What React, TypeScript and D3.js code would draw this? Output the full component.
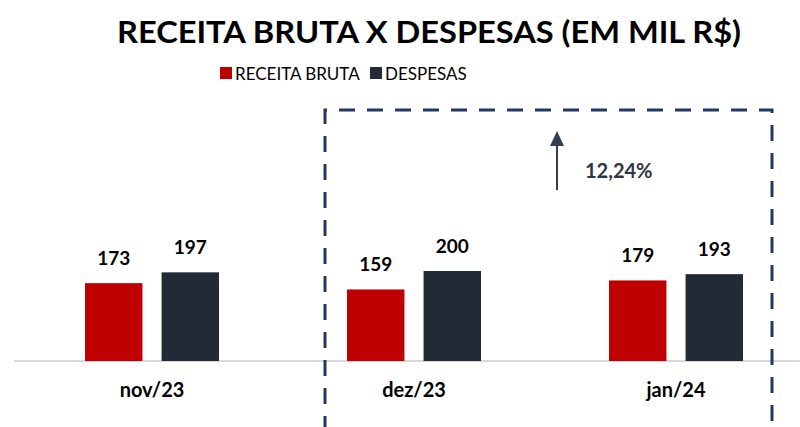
import { useEffect, useRef } from 'react'
import * as d3 from 'd3'

const categories = ['nov/23', 'dez/23', 'jan/24']
const receita = [173, 159, 179]
const despesas = [197, 200, 193]
const seriesNames = ['RECEITA BRUTA', 'DESPESAS']
const seriesColors = ['#C00000', '#222A35']
const growthLabel = '12,24%'

const W = 800
const H = 427
const BASE_Y = 361
const FONT = 'Lato, "Open Sans", sans-serif'

export default function App() {
  const svgRef = useRef<SVGSVGElement>(null)

  useEffect(() => {
    if (!svgRef.current) return
    document.body.style.margin = '0'
    const svg = d3.select(svgRef.current)
    svg.selectAll('*').remove()

    const x = d3.scaleBand<string>().domain(categories).range([21, 807]).paddingInner(0).paddingOuter(0)
    const y = d3.scaleLinear().domain([0, 200]).range([BASE_Y, 271])
    const inner = d3.scaleBand<number>().domain([0, 1]).range([-67, 67]).paddingInner(0.25)

    // Title
    svg.append('text')
      .attr('x', 429).attr('y', 43)
      .attr('text-anchor', 'middle')
      .attr('font-family', FONT).attr('font-weight', 700).attr('font-size', 30)
      .attr('textLength', 624).attr('lengthAdjust', 'spacingAndGlyphs')
      .attr('fill', '#000')
      .text('RECEITA BRUTA X DESPESAS (EM MIL R$)')

    // Legend
    const legendX = [220, 370]
    seriesNames.forEach((name, i) => {
      svg.append('rect')
        .attr('x', legendX[i]).attr('y', 67).attr('width', 12).attr('height', 12)
        .attr('fill', seriesColors[i])
      svg.append('text')
        .attr('x', legendX[i] + 15).attr('y', 80)
        .attr('font-family', FONT).attr('font-size', 17).attr('fill', '#000')
        .text(name)
    })

    // Axis baseline
    svg.append('line')
      .attr('x1', 14).attr('x2', 800).attr('y1', BASE_Y).attr('y2', BASE_Y)
      .attr('stroke', '#d9d9d9').attr('stroke-width', 2)

    const series = [receita, despesas]
    categories.forEach((c, ci) => {
      const cx = x(c)! + x.bandwidth() / 2
      series.forEach((vals, si) => {
        const bx = cx + inner(si)!
        const v = vals[ci]
        svg.append('rect')
          .attr('x', bx).attr('y', y(v))
          .attr('width', inner.bandwidth()).attr('height', BASE_Y - y(v))
          .attr('fill', seriesColors[si])
        svg.append('text')
          .attr('x', bx + inner.bandwidth() / 2).attr('y', y(v) - 18)
          .attr('text-anchor', 'middle')
          .attr('font-family', FONT).attr('font-weight', 700).attr('font-size', 19)
          .attr('fill', '#000')
          .text(v)
      })
      svg.append('text')
        .attr('x', cx).attr('y', 397)
        .attr('text-anchor', 'middle')
        .attr('font-family', FONT).attr('font-weight', 700).attr('font-size', 20)
        .attr('fill', '#000')
        .text(c)
    })

    // Dashed highlight box (open at the bottom)
    svg.append('path')
      .attr('d', `M325,${H + 5} L325,110 L772,110 L772,${H + 5}`)
      .attr('fill', 'none')
      .attr('stroke', '#1F3864').attr('stroke-width', 3)
      .attr('stroke-dasharray', '16,12')

    // Growth arrow
    svg.append('line')
      .attr('x1', 557).attr('x2', 557).attr('y1', 190).attr('y2', 144)
      .attr('stroke', '#333F50').attr('stroke-width', 2)
    svg.append('path')
      .attr('d', 'M557,131 L550,146 L564,146 Z')
      .attr('fill', '#333F50')
    svg.append('text')
      .attr('x', 585).attr('y', 178)
      .attr('font-family', FONT).attr('font-weight', 700).attr('font-size', 20)
      .attr('fill', '#2B3543')
      .text(growthLabel)
  }, [])

  return (
    <svg ref={svgRef} width={W} height={H}
      style={{ display: 'block', position: 'absolute', left: 0, top: 0, background: '#fff' }} />
  )
}
